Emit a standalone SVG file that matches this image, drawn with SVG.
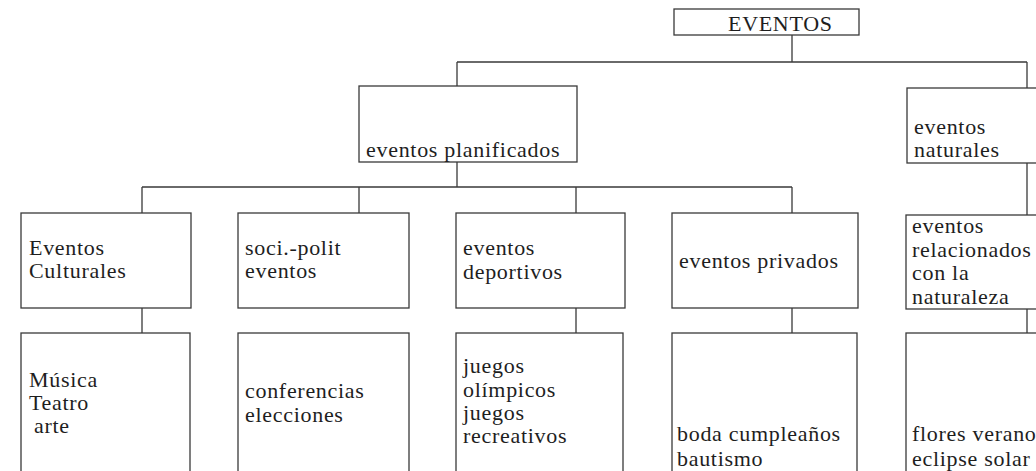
<svg xmlns="http://www.w3.org/2000/svg" width="1036" height="471" viewBox="0 0 1036 471">
<style>
.box{fill:#fff;stroke:#3a3a3a;stroke-width:1.3}
.ln{fill:none;stroke:#3a3a3a;stroke-width:1.3}
text{font-family:"Liberation Serif","Times New Roman",serif;font-size:22px;letter-spacing:0.7px;fill:#1e1e1e}
</style>
<rect width="1036" height="471" fill="#fff"/>
<g id="connectors" class="ln">
<path d="M792 35V62M457 62H1027M457 62V86M1027 62V88"/>
<path d="M457 162V187M142 187H792M142 187V213M359 187V213M576 187V213M792 187V213"/>
<path d="M1027 163V215"/>
<path d="M142 308V333M576 308V333M792 308V333M1027 309V333"/>
</g>
<g id="eventos"><rect class="box" x="674" y="9" width="185" height="26"/><text x="728" y="31">EVENTOS</text></g>
<g id="planificados"><rect class="box" x="359" y="86" width="218" height="76"/><text x="366" y="157">eventos planificados</text></g>
<g id="naturales"><rect class="box" x="907" y="88" width="140" height="75"/><text x="914" y="134">eventos</text><text x="914" y="157">naturales</text></g>
<g id="culturales"><rect class="box" x="21" y="213" width="170" height="95"/><text x="29" y="255">Eventos</text><text x="29" y="278">Culturales</text></g>
<g id="sociopolit"><rect class="box" x="238" y="213" width="171" height="95"/><text x="245" y="255">soci.-polit</text><text x="245" y="278">eventos</text></g>
<g id="deportivos"><rect class="box" x="456" y="213" width="169" height="95"/><text x="463" y="255">eventos</text><text x="463" y="279">deportivos</text></g>
<g id="privados"><rect class="box" x="672" y="213" width="186" height="95"/><text x="679" y="268">eventos privados</text></g>
<g id="relacionados"><rect class="box" x="906" y="215" width="140" height="94"/><text x="912" y="233">eventos</text><text x="912" y="257">relacionados</text><text x="912" y="280">con la</text><text x="912" y="304">naturaleza</text></g>
<g id="cultura-ej"><rect class="box" x="21" y="333" width="169" height="150"/><text x="29" y="387">Música</text><text x="29" y="410">Teatro</text><text x="34" y="433">arte</text></g>
<g id="sociopolit-ej"><rect class="box" x="238" y="333" width="171" height="150"/><text x="245" y="398">conferencias</text><text x="245" y="422">elecciones</text></g>
<g id="deportivos-ej"><rect class="box" x="456" y="333" width="167" height="150"/><text x="463" y="373">juegos</text><text x="463" y="397">olímpicos</text><text x="463" y="420">juegos</text><text x="463" y="443">recreativos</text></g>
<g id="privados-ej"><rect class="box" x="672" y="333" width="185" height="150"/><text x="677" y="441">boda cumpleaños</text><text x="677" y="466">bautismo</text></g>
<g id="naturaleza-ej"><rect class="box" x="906" y="333" width="140" height="150"/><text x="912" y="441">flores verano</text><text x="912" y="466">eclipse solar</text></g>
</svg>
